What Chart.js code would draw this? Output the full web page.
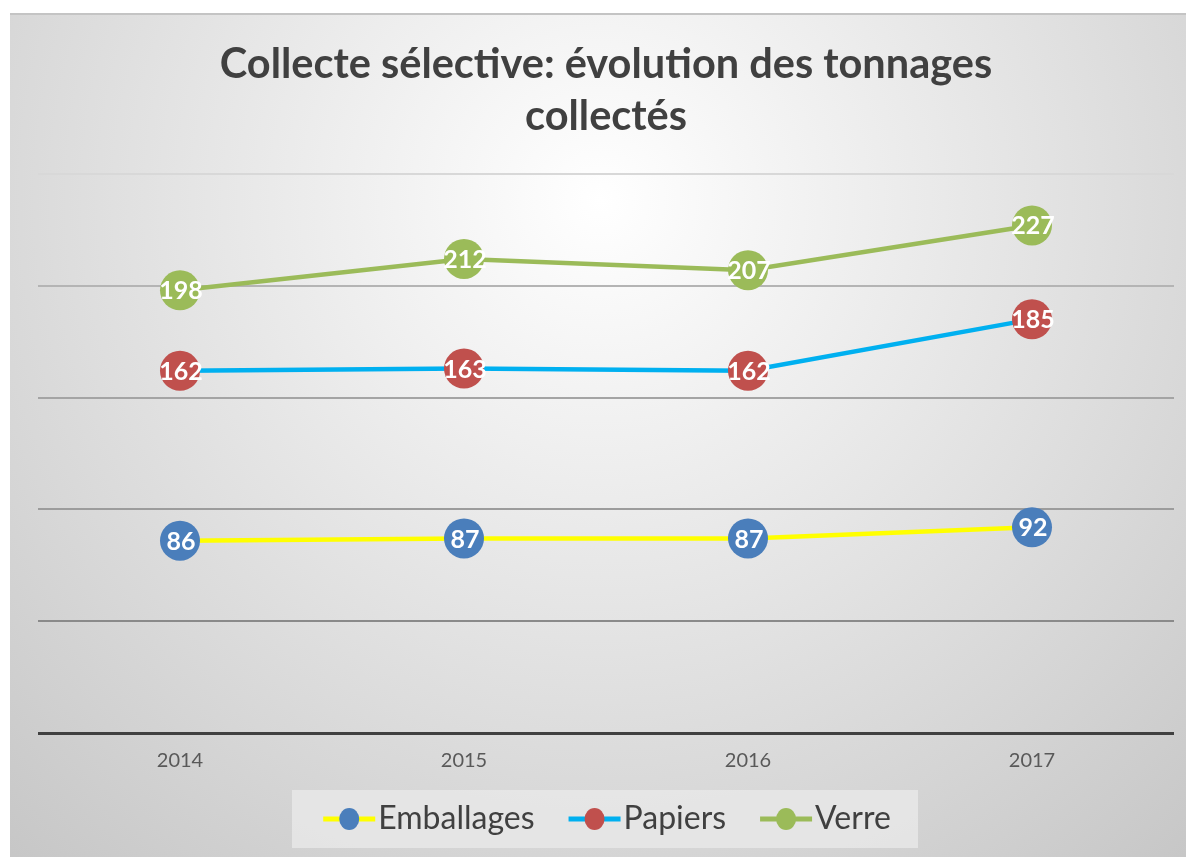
<!DOCTYPE html>
<html>
<head>
<meta charset="utf-8">
<script src="https://cdn.jsdelivr.net/npm/chart.js@4/dist/chart.umd.min.js"></script>
<style>
  html, body { margin: 0; padding: 0; background: #fff; }
  canvas { display: block; }
</style>
</head>
<body>
<canvas id="chart" width="1186" height="857"></canvas>
<script>
// Data
const years = ['2014', '2015', '2016', '2017'];
const emballages = [86, 87, 87, 92];
const papiers = [162, 163, 162, 185];
const verre = [198, 212, 207, 227];

const seriesNames = ['Emballages', 'Papiers', 'Verre'];
const lineColors = ['#FFFF00', '#00B0F0', '#9BBB59'];
const markerColors = ['#4A7EBB', '#C0504D', '#9BBB59'];

const FONT = 'Lato, "Open Sans", sans-serif';

// Gradient panel behind everything (white page margin around it)
const backgroundPlugin = {
  id: 'panelBackground',
  beforeDraw(chart) {
    const ctx = chart.ctx;
    ctx.save();
    ctx.fillStyle = '#ffffff';
    ctx.fillRect(0, 0, chart.width, chart.height);
    const g = ctx.createRadialGradient(600, 200, 0, 600, 200, 1050);
    g.addColorStop(0, '#ffffff');
    g.addColorStop(1, '#bcbcbc');
    ctx.fillStyle = g;
    ctx.fillRect(10, 13, chart.width - 10, chart.height - 13);
    ctx.strokeStyle = '#c4c4c4';
    ctx.lineWidth = 2;
    ctx.beginPath();
    ctx.moveTo(10, 14);
    ctx.lineTo(chart.width, 14);
    ctx.stroke();
    ctx.restore();
  }
};

// White value labels centred on each marker
const valueLabels = {
  id: 'valueLabels',
  afterDatasetsDraw(chart) {
    const ctx = chart.ctx;
    ctx.save();
    ctx.font = 'bold 25px ' + FONT;
    ctx.fillStyle = '#ffffff';
    ctx.textAlign = 'center';
    ctx.textBaseline = 'middle';
    chart.data.datasets.forEach((ds, i) => {
      chart.getDatasetMeta(i).data.forEach((pt, j) => {
        ctx.fillText(String(ds.data[j]), pt.x + 1, pt.y + 1);
      });
    });
    ctx.restore();
  }
};

// Legend box with line + dot symbols, drawn at the bottom
const lineLegend = {
  id: 'lineLegend',
  afterDraw(chart) {
    const ctx = chart.ctx;
    ctx.save();
    ctx.fillStyle = 'rgba(232,232,232,0.85)';
    ctx.fillRect(292, 790, 626, 58);
    ctx.font = '32px ' + FONT;
    ctx.textBaseline = 'middle';
    ctx.textAlign = 'left';
    const symW = 52, gapText = 3, gapItem = 34;
    const widths = seriesNames.map(n => ctx.measureText(n).width);
    const total = widths.reduce((a, b) => a + b, 0) + seriesNames.length * (symW + gapText) + gapItem * (seriesNames.length - 1);
    let x = 607 - total / 2;
    const y = 819;
    seriesNames.forEach((name, i) => {
      ctx.strokeStyle = lineColors[i];
      ctx.lineWidth = 5;
      ctx.beginPath();
      ctx.moveTo(x, y);
      ctx.lineTo(x + symW, y);
      ctx.stroke();
      ctx.fillStyle = markerColors[i];
      ctx.beginPath();
      ctx.ellipse(x + symW / 2, y, 10, 11, 0, 0, Math.PI * 2);
      ctx.fill();
      ctx.fillStyle = '#404040';
      ctx.fillText(name, x + symW + gapText, y);
      x += symW + gapText + widths[i] + gapItem;
    });
    ctx.restore();
  }
};

const gridColors = { 0: '#404040', 50: '#8a8a8a', 100: '#9c9c9c', 150: '#a4a4a4', 200: '#b4b4b4', 250: '#d8d8d8' };

const makeDataset = (i, values) => ({
  label: seriesNames[i],
  data: values,
  borderColor: lineColors[i],
  backgroundColor: markerColors[i],
  borderWidth: 4.5,
  pointRadius: 20,
  pointHoverRadius: 20,
  pointBackgroundColor: markerColors[i],
  pointBorderWidth: 0,
  tension: 0,
  fill: false,
});

new Chart(document.getElementById('chart').getContext('2d'), {
  type: 'line',
  data: {
    labels: years,
    datasets: [
      makeDataset(0, emballages),
      makeDataset(1, papiers),
      makeDataset(2, verre),
    ],
  },
  options: {
    responsive: false,
    animation: false,
    devicePixelRatio: 1,
    layout: { autoPadding: false, padding: { left: 38, right: 12, top: 13, bottom: 68 } },
    plugins: {
      legend: { display: false },
      tooltip: { enabled: false },
      title: {
        display: true,
        text: ['Collecte sélective: évolution des tonnages', 'collectés'],
        color: '#404040',
        font: { family: FONT, size: 41.5, weight: 'bold', lineHeight: '52px' },
        padding: { top: 26, bottom: 31 },
      },
    },
    scales: {
      x: {
        offset: true,
        grid: { display: false, drawTicks: false },
        border: { display: false },
        ticks: { color: '#595959', font: { family: FONT, size: 20 }, padding: 16 },
      },
      y: {
        min: 0,
        max: 250,
        ticks: { display: false, stepSize: 50 },
        border: { display: false },
        grid: {
          drawTicks: false,
          color: c => gridColors[c.tick.value] || '#999999',
          lineWidth: c => (c.tick.value === 0 ? 3 : 2),
        },
      },
    },
  },
  plugins: [backgroundPlugin, valueLabels, lineLegend],
});
</script>
</body>
</html>
